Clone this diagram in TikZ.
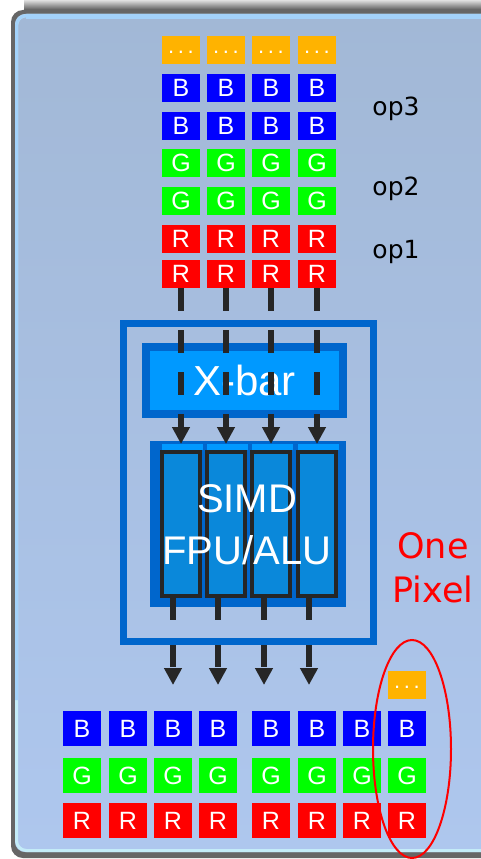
\documentclass[tikz,border=0pt]{standalone}
\usepackage{fontspec}
\setmainfont{Liberation Sans}
\newfontfamily\verafont{DejaVu Sans}
\usetikzlibrary{positioning,arrows.meta,shapes.geometric,calc}
\definecolor{PxPanelTop}{HTML}{A2B8D6}
\definecolor{PxPanelBot}{HTML}{AEC7EE}
\definecolor{PxPanelEdge}{HTML}{A3D2FA}
\definecolor{PxPanelFoot}{HTML}{C4ECF8}
\definecolor{PxRed}{HTML}{FF0000}
\definecolor{PxGreen}{HTML}{00FF00}
\definecolor{PxBlue}{HTML}{0000FF}
\definecolor{PxOrange}{HTML}{FFB300}
\definecolor{PxFrame}{HTML}{0066CC}
\definecolor{PxBar}{HTML}{0099FF}
\definecolor{PxLane}{HTML}{0A88DA}
\definecolor{PxInk}{HTML}{262626}
\tikzset{
  pxcell/.style={
    rectangle,
    inner sep=0pt,
    minimum width=38pt,
    minimum height=28pt,
    text=white,
    font=\fontsize{25}{25}\selectfont
  },
  pxtall/.style={pxcell,minimum height=35pt},
  pxdots/.style={pxcell,fill=PxOrange,font=\fontsize{22}{22}\selectfont},
  pxlane/.style={rectangle,fill=PxLane,draw=PxInk,line width=4pt,
    minimum width=38pt,minimum height=144pt,inner sep=0pt},
  pxflow/.style={-{Triangle[length=17pt,width=17pt]},line width=6pt,draw=PxInk},
  pxop/.style={font=\verafont\fontsize{25}{25}\selectfont,text=black,anchor=base},
  pxbig/.style={text=white,align=center,font=\fontsize{40}{52}\selectfont},
}
\begin{document}
\begin{tikzpicture}[x=1pt,y=-1pt]
  \useasboundingbox (0,0) rectangle (481,859);

  % panel with its soft shadow
  \fill[white] (0,0) rectangle (481,859);
  \shade[top color=black!12,bottom color=black!75] (24,0) rectangle (481,12);
  \fill[black!60,rounded corners=12pt] (11,10) rectangle (500,858);
  \shade[top color=PxPanelTop,bottom color=PxPanelBot,rounded corners=10pt]
    (15,14) rectangle (500,852);
  \draw[PxPanelFoot,line width=3pt,rounded corners=10pt] (16.5,15.5) rectangle (500,850.5);
  \draw[PxPanelEdge,line width=3pt,rounded corners=10pt] (16.5,700) -- (16.5,15.5) -- (500,15.5);
  \fill[PxPanelEdge] (26,14) rectangle (481,19);

  % incoming pixel words
  \foreach \x [count=\i] in {181,226,271,317} {
    \node[pxdots] (in-dot-\i) at (\x,50) {\raisebox{-7pt}{.\,.\,.}};
    \foreach \y/\row/\ch/\tint in {88/b2/B/PxBlue,126/b1/B/PxBlue,163/g2/G/PxGreen,
        201/g1/G/PxGreen,239/r2/R/PxRed,274/r1/R/PxRed}
      \node[pxcell,fill=\tint] (in-\row-\i) at (\x,\y) {\ch};
  }
  \node[pxop] (op3) at (396,115) {op3};
  \node[pxop] (op2) at (396,195) {op2};
  \node[pxop] (op1) at (396,258) {op1};

  % one pixel unit
  \node[draw=PxFrame,line width=7pt,minimum width=250pt,minimum height=318pt,
    inner sep=0pt] (pixel) at (248.5,482.5) {};
  \node[fill=PxBar,draw=PxFrame,line width=8pt,minimum width=197pt,minimum height=67pt,
    text=white,font=\fontsize{42}{42}\selectfont] (xbar) at (244.5,380.5) {X-bar};
  \node[fill=PxFrame,minimum width=196pt,minimum height=166pt,inner sep=0pt]
    (simd) at (248,524) {};
  \foreach \x [count=\i] in {181,226,271,317} {
    \node[pxlane] (lane\i) at (\x,524) {};
    \fill[PxBar] ([xshift=2pt]lane\i.north west) rectangle ([xshift=1pt,yshift=6pt]lane\i.north east);
  }
  \node[pxbig] (simdtext) at (247,525) {SIMD\\FPU/ALU};

  % data flow
  \foreach \i in {1,...,4}
    \draw[pxflow,dash pattern=on 23pt off 19pt] (in-r1-\i.south) -- ([yshift=6pt]lane\i.north);
  \foreach \x [count=\i] in {173,218,264,309} {
    \coordinate (out\i) at (\x,685);
    \draw[pxflow,dash pattern=on 22pt off 25pt] (lane\i.south -| out\i) -- (out\i);
  }

  % outgoing pixels
  \foreach \x [count=\i] in {82,128,173,218,271,317,362,407} {
    \foreach \y/\row/\ch/\tint in {728.5/b/B/PxBlue,775.5/g/G/PxGreen,820.5/r/R/PxRed}
      \node[pxtall,fill=\tint] (out-\row-\i) at (\x,\y) {\ch};
  }
  \node[pxdots] (out-dot) at (407,685) {\raisebox{-7pt}{.\,.\,.}};

  \node[draw=PxRed,line width=2pt,ellipse,minimum width=78pt,minimum height=218pt,
    inner sep=0pt] (pixring) at (412,749) {};
  \node[font=\verafont\fontsize{35}{44}\selectfont,text=PxRed,align=center]
    (pixlabel) at (433,568) {One\\Pixel};
\end{tikzpicture}
\end{document}
